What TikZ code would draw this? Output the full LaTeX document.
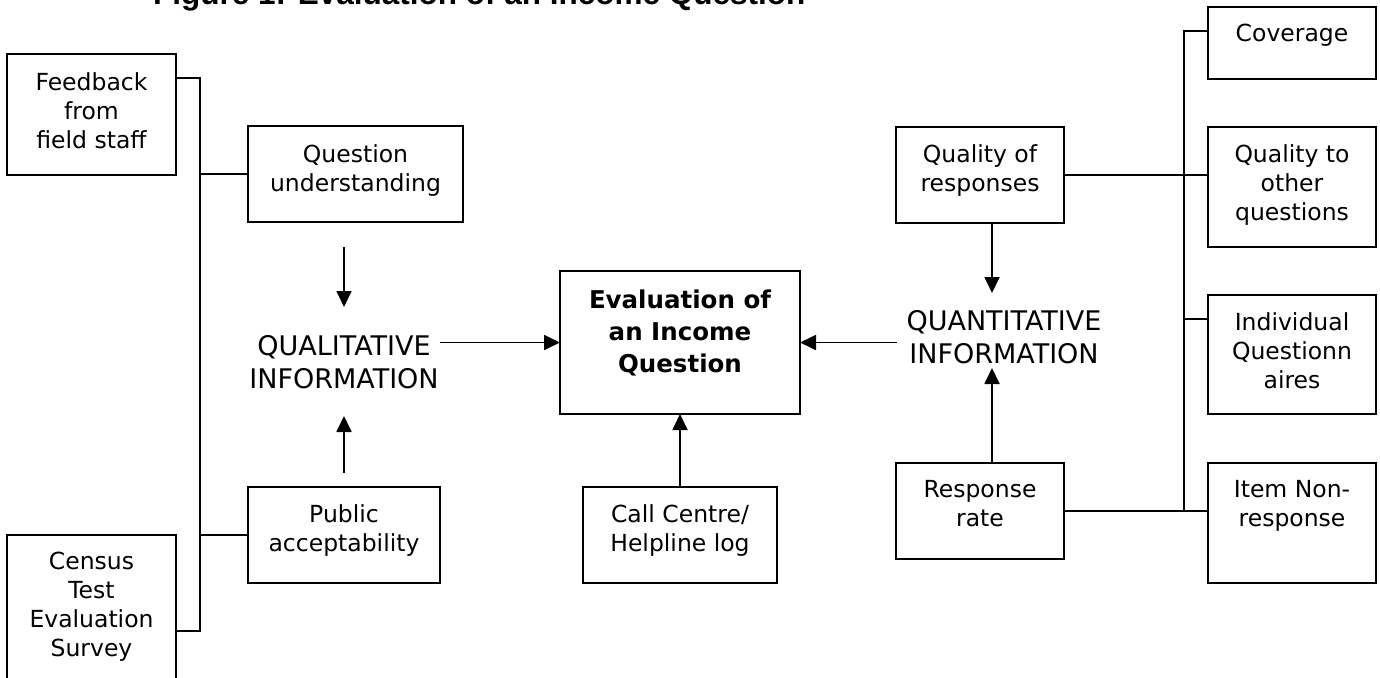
\documentclass[tikz,border=0pt]{standalone}
\usepackage{fontspec}
\setmainfont{DejaVu Sans}
\newfontfamily\titlefont{Liberation Sans}
\usetikzlibrary{arrows.meta}
\newcommand{\tb}[4]{\parbox[c][#2pt][t]{#1pt}{\centering\rule{0pt}{#3pt}#4}}
\newcommand{\tl}[3]{\parbox[t]{#1pt}{\centering\rule{0pt}{#2pt}#3}}
\tikzset{
  bx/.style={draw, line width=2pt, inner sep=0pt, outer sep=0pt, anchor=north west,
    font=\fontsize{23.5}{29}\selectfont},
  lbl/.style={inner sep=0pt, outer sep=0pt, anchor=north, font=\fontsize{27}{33}\selectfont},
  arr/.style={line width=1.8pt, -{Triangle[length=16pt,width=15pt]}},
  ln/.style={line width=2pt}
}
\begin{document}
\begin{tikzpicture}[x=1pt,y=-1pt]
\useasboundingbox (0,0) rectangle (1380,677);
\clip (0,0) rectangle (1380,677);
% title
\node[anchor=base west, inner sep=0pt, font=\titlefont\bfseries\fontsize{31.5}{38}\selectfont] (title) at (153,5) {Figure 1: Evaluation of an Income Question};
% left boxes
\node[bx] (fb) at (7,54) {\tb{169}{121}{36}{Feedback\\from\\field staff}};
\node[bx] (cs) at (7,535) {\tb{169}{192}{34}{Census\\Test\\Evaluation\\Survey}};
\node[bx] (qu) at (248,126) {\tb{215}{96}{36}{Question\\understanding}};
\node[bx] (pa) at (248,487) {\tb{192}{96}{35}{Public\\acceptability}};
% centre
\node[bx, font=\bfseries\fontsize{24.5}{32}\selectfont] (main) at (560,271) {\tb{240}{143}{37}{Evaluation of\\an Income\\Question}};
\node[bx] (cc) at (583,487) {\tb{194}{96}{35}{Call Centre/\\Helpline log}};
% right
\node[bx] (qr) at (896,127) {\tb{168}{96}{35}{Quality of\\responses}};
\node[bx] (rr) at (896,463) {\tb{168}{96}{34}{Response\\rate}};
\node[bx] (cov) at (1208,7) {\tb{168}{72}{34}{Coverage}};
\node[bx] (qo) at (1208,127) {\tb{168}{120}{35}{Quality to\\other\\questions}};
\node[bx] (iq) at (1208,295) {\tb{168}{119}{35}{Individual\\Questionn\\aires}};
\node[bx] (inr) at (1208,463) {\tb{168}{120}{34}{Item Non-\\response}};
% labels
\node[lbl] (qual) at (344,327) {\tl{192}{28}{QUALITATIVE\\INFORMATION}};
\node[lbl] (quant) at (1004,302) {\tl{214}{28}{QUANTITATIVE\\INFORMATION}};
% left bus
\coordinate (lt) at (200,78);
\coordinate (lb) at (200,631);
\draw[ln] ([yshift=-24pt]fb.north east) -- (lt) -- (lb) -- (cs.east |- lb);
\draw[ln] (qu.west) -- (qu.west -| lt);
\draw[ln] (pa.west) -- (pa.west -| lt);
% right bus
\coordinate (rt) at (1184,31);
\coordinate (rb) at (1184,511);
\coordinate (iqc) at ([yshift=-24pt]iq.north west);
\draw[ln] ([yshift=-24pt]cov.north west) -- (rt) -- (rb);
\draw[ln] (qr.east) -- (qo.west |- qr.east);
\draw[ln] (iqc) -- (iqc -| rt);
\draw[ln] (rr.east) -- (inr.west |- rr.east);
% arrows
\draw[arr] ([yshift=80pt]qual.north) -- ([yshift=20pt]qual.north);
\draw[arr] ([yshift=14pt]pa.north) -- ([yshift=71pt]pa.north);
\draw[arr] (qual.east |- main.west) -- (main.west);
\draw[arr] (quant.west |- main.east) -- (main.east);
\draw[arr] (cc.north) -- (main.south);
\draw[arr] ([xshift=12pt]qr.south) -- ([xshift=12pt,yshift=-70pt]qr.south);
\draw[arr] ([xshift=12pt]rr.north) -- ([xshift=12pt,yshift=95pt]rr.north);
\end{tikzpicture}
\end{document}
